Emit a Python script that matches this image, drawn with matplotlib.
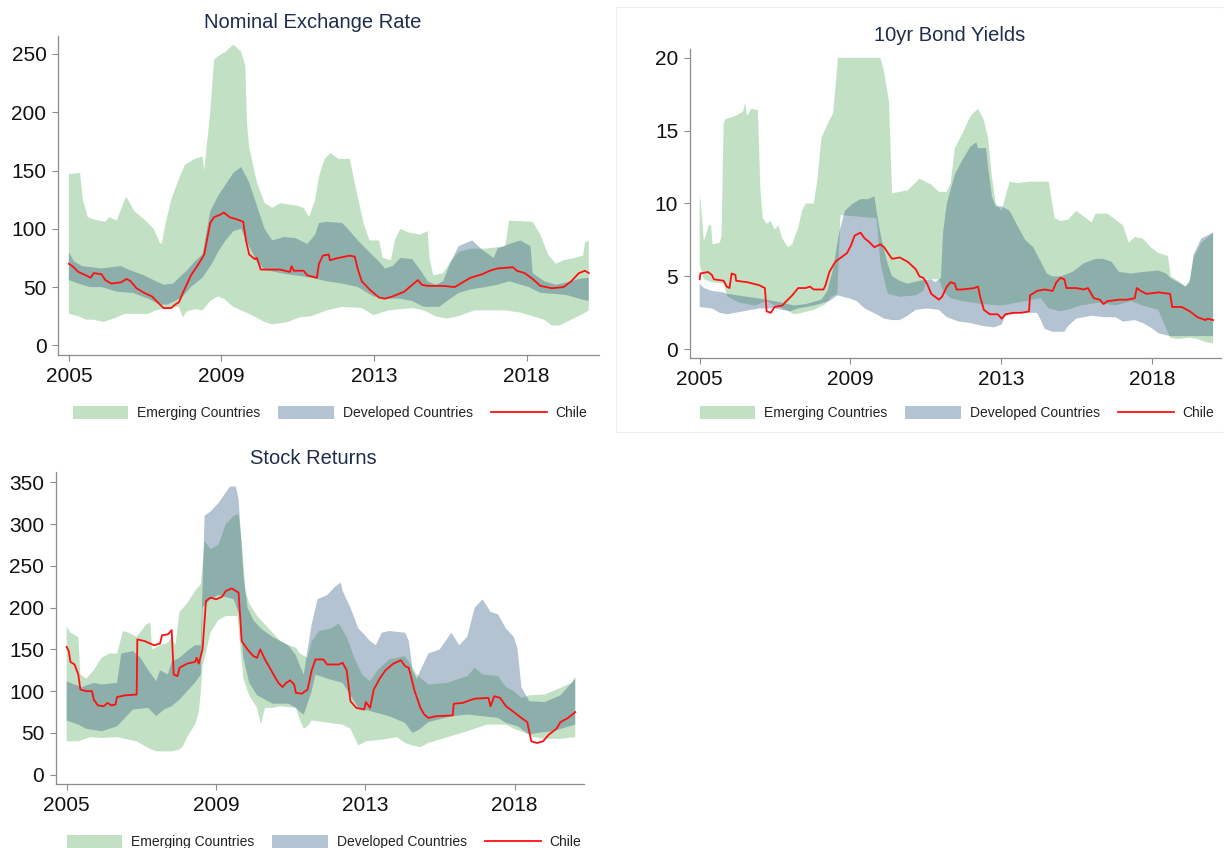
import numpy as np
import matplotlib
matplotlib.use("Agg")
import matplotlib.pyplot as plt
from matplotlib.patches import Patch, Rectangle
from matplotlib.lines import Line2D

plt.rcParams['font.family'] = ['Liberation Sans', 'DejaVu Sans']

# ---------------- common axis labels ----------------
xtick_pos = [2005.0, 2009.35, 2013.7, 2018.05]
xtick_labels = ['2005', '2009', '2013', '2018']
legend_labels = ['Emerging Countries', 'Developed Countries', 'Chile']
titles = ['Nominal Exchange Rate', '10yr Bond Yields', 'Stock Returns']

# ---------------- Panel 1: Nominal Exchange Rate ----------------
ner_em_up_x = [2005.00, 2005.32, 2005.40, 2005.54, 2005.71, 2006.04, 2006.15, 2006.37, 2006.59, 2006.65,
               2006.87, 2007.15, 2007.42, 2007.59, 2007.65, 2007.76, 2007.92, 2008.14, 2008.31, 2008.59,
               2008.81, 2008.86, 2009.03, 2009.14, 2009.25, 2009.47, 2009.69, 2009.91, 2010.03, 2010.08,
               2010.14, 2010.36, 2010.58, 2010.80, 2011.02, 2011.46, 2011.69, 2011.85, 2012.02, 2012.13,
               2012.29, 2012.46, 2012.68, 2013.01, 2013.18, 2013.40, 2013.57, 2013.84, 2013.95, 2014.18,
               2014.29, 2014.45, 2014.67, 2015.01, 2015.23, 2015.28, 2015.39, 2015.67, 2015.89, 2016.11,
               2016.45, 2016.89, 2017.44, 2017.55, 2018.22, 2018.44, 2018.66, 2018.88, 2019.10, 2019.43,
               2019.66, 2019.71, 2019.82]
ner_em_up_y = [147, 148, 125, 110, 108, 106, 110, 107, 125, 127,
               115, 108, 100, 88, 87, 105, 125, 143, 155, 160,
               162, 150, 200, 245, 248, 252, 258, 252, 240, 190,
               170, 140, 122, 118, 122, 120, 118, 110, 125, 145,
               160, 165, 160, 160, 135, 105, 90, 90, 75, 73,
               90, 100, 97, 95, 98, 75, 60, 62, 72, 80,
               83, 83, 85, 107, 106, 95, 78, 70, 73, 75,
               77, 88, 90]
ner_em_lo_x = [2005.00, 2005.27, 2005.49, 2005.71, 2005.99, 2006.37, 2006.59, 2007.26, 2007.48, 2007.81,
               2008.14, 2008.25, 2008.36, 2008.59, 2008.81, 2009.03, 2009.25, 2009.42, 2009.69, 2010.14,
               2010.58, 2010.80, 2011.24, 2011.58, 2011.91, 2012.35, 2012.79, 2013.35, 2013.68, 2014.12,
               2014.79, 2015.12, 2015.45, 2015.78, 2016.11, 2016.56, 2017.44, 2017.88, 2018.55, 2018.77,
               2018.99, 2019.32, 2019.66, 2019.82]
ner_em_lo_y = [27, 25, 22, 22, 20, 24, 27, 27, 30, 32,
               33, 24, 29, 31, 30, 38, 42, 40, 33, 27,
               20, 18, 20, 24, 25, 30, 33, 32, 26, 30,
               32, 30, 25, 23, 25, 30, 30, 28, 22, 17,
               17, 22, 27, 30]
ner_dev_up_x = [2005.00, 2005.15, 2005.38, 2005.93, 2006.48, 2006.70, 2007.15, 2007.48, 2007.70, 2007.98,
                2008.14, 2008.36, 2008.59, 2008.81, 2009.03, 2009.25, 2009.47, 2009.69, 2009.91, 2010.14,
                2010.36, 2010.58, 2010.80, 2011.13, 2011.46, 2011.80, 2012.02, 2012.13, 2012.35, 2012.79,
                2013.01, 2013.24, 2013.57, 2013.84, 2014.01, 2014.23, 2014.45, 2014.79, 2015.01, 2015.23,
                2015.45, 2015.67, 2015.89, 2016.11, 2016.33, 2016.50, 2016.78, 2017.11, 2017.22, 2017.55,
                2017.88, 2018.16, 2018.22, 2018.55, 2018.88, 2019.21, 2019.54, 2019.82]
ner_dev_up_y = [80, 72, 68, 66, 68, 65, 60, 55, 52, 53,
                58, 64, 72, 78, 115, 128, 138, 148, 153, 140,
                120, 100, 90, 93, 92, 87, 95, 105, 106, 105,
                98, 90, 80, 72, 66, 68, 75, 74, 65, 55,
                52, 55, 72, 85, 88, 90, 82, 75, 83, 87,
                90, 85, 62, 55, 52, 54, 57, 58]
ner_dev_lo_x = [2005.00, 2005.27, 2005.60, 2005.93, 2006.37, 2006.82, 2007.26, 2007.59, 2007.81, 2008.03,
                2008.25, 2008.48, 2008.81, 2009.08, 2009.25, 2009.47, 2009.69, 2009.91, 2010.14, 2010.36,
                2010.58, 2011.02, 2011.46, 2011.91, 2012.35, 2012.79, 2013.24, 2013.68, 2014.01, 2014.45,
                2014.79, 2015.12, 2015.56, 2015.78, 2016.11, 2016.45, 2016.89, 2017.22, 2017.55, 2018.11,
                2018.44, 2018.88, 2019.21, 2019.54, 2019.82]
ner_dev_lo_y = [56, 53, 50, 50, 46, 45, 40, 35, 35, 38,
                42, 50, 58, 70, 80, 90, 98, 100, 85, 72,
                65, 62, 60, 58, 55, 53, 50, 42, 40, 40,
                38, 33, 33, 38, 45, 48, 50, 52, 55, 50,
                45, 44, 43, 40, 38]
ner_chile_x = [2005.00, 2005.10, 2005.27, 2005.49, 2005.62, 2005.71, 2005.93, 2006.04, 2006.21, 2006.48,
               2006.65, 2006.76, 2006.93, 2007.15, 2007.37, 2007.53, 2007.70, 2007.92, 2008.03, 2008.14,
               2008.25, 2008.48, 2008.70, 2008.86, 2009.03, 2009.14, 2009.31, 2009.42, 2009.58, 2009.80,
               2009.97, 2010.05, 2010.14, 2010.30, 2010.36, 2010.47, 2010.69, 2011.02, 2011.30, 2011.35,
               2011.41, 2011.69, 2011.80, 2012.07, 2012.13, 2012.24, 2012.41, 2012.44, 2012.68, 2013.01,
               2013.15, 2013.24, 2013.35, 2013.57, 2013.84, 2014.01, 2014.23, 2014.56, 2014.79, 2014.95,
               2015.06, 2015.23, 2015.67, 2016.00, 2016.22, 2016.45, 2016.78, 2017.00, 2017.22, 2017.66,
               2017.77, 2017.99, 2018.22, 2018.44, 2018.77, 2019.10, 2019.32, 2019.54, 2019.71, 2019.82]
ner_chile_y = [70, 68, 63, 60, 58, 62, 61, 56, 53, 54,
               57, 55, 49, 45, 42, 37, 32, 32, 35, 37,
               45, 60, 70, 78, 105, 110, 112, 114, 110, 108,
               106, 90, 78, 74, 75, 65, 65, 65, 63, 68,
               64, 64, 60, 58, 70, 77, 78, 73, 75, 77,
               76, 65, 55, 48, 41, 40, 42, 46, 52, 56,
               52, 51, 51, 50, 54, 58, 61, 64, 66, 67,
               64, 62, 57, 51, 49, 50, 55, 62, 64, 62]

# ---------------- Panel 2: 10yr Bond Yields ----------------
bond_em_up_x = [2005.00, 2005.05, 2005.12, 2005.26, 2005.33, 2005.37, 2005.58, 2005.63, 2005.69, 2005.75,
                2006.03, 2006.25, 2006.31, 2006.37, 2006.48, 2006.68, 2006.75, 2006.82, 2006.93, 2007.05,
                2007.16, 2007.27, 2007.38, 2007.55, 2007.67, 2007.72, 2007.84, 2007.95, 2008.06, 2008.29,
                2008.40, 2008.51, 2008.74, 2008.85, 2008.99, 2010.21, 2010.27, 2010.32, 2010.46, 2010.55,
                2011.00, 2011.34, 2011.68, 2011.90, 2012.13, 2012.24, 2012.36, 2012.58, 2012.81, 2013.03,
                2013.20, 2013.32, 2013.43, 2013.54, 2013.71, 2013.94, 2014.16, 2014.50, 2015.07, 2015.24,
                2015.41, 2015.63, 2015.86, 2016.14, 2016.31, 2016.42, 2016.76, 2016.99, 2017.21, 2017.38,
                2017.55, 2017.78, 2018.01, 2018.23, 2018.51, 2018.59, 2018.80, 2019.02, 2019.14, 2019.25,
                2019.47, 2019.81]
bond_em_up_y = [10.6, 9.5, 7.4, 8.5, 8.5, 7.2, 7.3, 7.8, 15.5, 15.8,
                16.0, 16.3, 16.9, 16.0, 16.5, 16.4, 11.0, 9.0, 8.6, 8.8,
                8.2, 8.5, 7.6, 7.0, 7.2, 7.6, 8.3, 9.5, 10.0, 10.0,
                11.7, 14.5, 15.7, 16.2, 20.0, 20.0, 19.5, 19.0, 17.0, 10.7,
                10.9, 11.7, 11.3, 10.8, 10.8, 11.4, 13.8, 14.8, 16.0, 16.5,
                15.7, 14.5, 11.8, 10.0, 9.5, 11.5, 11.4, 11.5, 11.5, 9.0,
                8.8, 8.9, 9.5, 9.0, 8.7, 9.3, 9.3, 8.9, 8.5, 7.3,
                7.7, 7.6, 7.0, 6.6, 6.4, 5.0, 4.7, 4.3, 4.8, 6.3,
                7.3, 8.0]
bond_em_lo_x = [2005.00, 2005.12, 2005.35, 2005.69, 2005.80, 2006.14, 2006.59, 2006.93, 2007.16, 2007.50,
                2007.72, 2007.95, 2008.29, 2008.63, 2008.80, 2008.97, 2009.06, 2010.10, 2010.21, 2010.32,
                2010.43, 2010.77, 2011.23, 2011.45, 2011.56, 2011.90, 2012.02, 2012.24, 2012.58, 2013.15,
                2013.71, 2013.94, 2014.39, 2014.84, 2015.07, 2015.41, 2015.75, 2015.97, 2016.54, 2016.99,
                2017.44, 2017.78, 2018.23, 2018.57, 2018.80, 2019.14, 2019.36, 2019.59, 2019.81]
bond_em_lo_y = [5.8, 4.8, 4.6, 4.5, 3.6, 3.2, 3.0, 3.3, 3.0, 2.7,
                2.4, 2.5, 2.7, 3.1, 3.6, 3.8, 9.2, 9.0, 6.0, 4.8,
                3.8, 3.6, 3.7, 4.0, 4.8, 4.8, 4.0, 3.5, 3.3, 3.1,
                3.0, 3.1, 3.3, 3.5, 2.8, 2.6, 2.8, 3.0, 3.2, 3.0,
                3.3, 3.0, 2.7, 0.8, 0.7, 0.8, 0.7, 0.5, 0.4]
bond_dev_up_x = [2005.00, 2005.12, 2005.35, 2005.69, 2005.80, 2006.37, 2006.93, 2007.38, 2007.72, 2008.06,
                 2008.51, 2008.68, 2008.85, 2009.02, 2009.19, 2009.42, 2009.64, 2009.87, 2010.04, 2010.10,
                 2010.21, 2010.32, 2010.43, 2010.55, 2010.77, 2011.00, 2011.34, 2011.68, 2011.79, 2011.96,
                 2012.02, 2012.13, 2012.36, 2012.58, 2012.81, 2012.98, 2013.03, 2013.26, 2013.32, 2013.43,
                 2013.54, 2013.71, 2013.94, 2014.16, 2014.39, 2014.62, 2014.84, 2015.01, 2015.18, 2015.41,
                 2015.75, 2016.08, 2016.42, 2016.65, 2016.88, 2017.10, 2017.44, 2017.78, 2018.23, 2018.46,
                 2018.57, 2018.80, 2019.02, 2019.14, 2019.25, 2019.47, 2019.81]
bond_dev_up_y = [4.5, 4.2, 4.0, 3.9, 3.8, 3.6, 3.4, 3.2, 3.0, 3.1,
                 3.4, 4.0, 5.5, 8.0, 9.5, 10.0, 10.3, 10.3, 10.5, 9.5,
                 8.0, 6.8, 5.8, 5.0, 4.7, 4.5, 4.7, 4.8, 4.6, 4.9,
                 8.0, 10.0, 12.0, 13.0, 13.9, 14.2, 13.8, 13.8, 12.5, 10.5,
                 9.8, 9.8, 9.5, 8.5, 7.5, 7.0, 6.0, 5.2, 5.0, 5.0,
                 5.3, 5.9, 6.2, 6.2, 6.0, 5.3, 5.2, 5.3, 5.4, 5.2,
                 4.9, 4.6, 4.3, 4.6, 6.5, 7.6, 8.0]
bond_dev_lo_x = [2005.00, 2005.35, 2005.58, 2005.80, 2006.25, 2006.71, 2007.16, 2007.61, 2007.84, 2008.29,
                 2008.74, 2008.97, 2009.30, 2009.53, 2009.76, 2010.10, 2010.32, 2010.55, 2010.77, 2011.00,
                 2011.23, 2011.56, 2011.90, 2012.13, 2012.47, 2012.81, 2013.15, 2013.49, 2013.71, 2013.82,
                 2014.16, 2014.73, 2014.84, 2014.95, 2015.18, 2015.52, 2015.63, 2015.86, 2016.31, 2016.65,
                 2016.99, 2017.21, 2017.55, 2017.78, 2018.01, 2018.23, 2018.57, 2019.02, 2019.81]
bond_dev_lo_y = [2.9, 2.8, 2.5, 2.4, 2.6, 2.8, 2.8, 2.6, 2.8, 3.0,
                 3.3, 3.7, 3.5, 3.3, 2.8, 2.4, 2.1, 2.0, 2.0, 2.3,
                 2.7, 2.8, 2.7, 2.2, 1.9, 1.8, 1.6, 1.5, 1.7, 2.3,
                 2.5, 2.5, 2.0, 1.4, 1.2, 1.2, 1.6, 2.1, 2.3, 2.2,
                 2.2, 1.9, 2.0, 1.8, 1.5, 1.1, 0.9, 0.9, 0.9]
bond_chile_x = [2005.00, 2005.02, 2005.24, 2005.35, 2005.41, 2005.69, 2005.78, 2005.86, 2005.92, 2006.03,
                2006.05, 2006.37, 2006.71, 2006.88, 2006.93, 2007.05, 2007.16, 2007.38, 2007.50, 2007.67,
                2007.84, 2008.06, 2008.18, 2008.29, 2008.57, 2008.63, 2008.74, 2008.91, 2009.08, 2009.25,
                2009.36, 2009.47, 2009.64, 2009.76, 2009.87, 2010.04, 2010.21, 2010.32, 2010.46, 2010.55,
                2010.77, 2011.00, 2011.23, 2011.34, 2011.45, 2011.56, 2011.68, 2011.90, 2011.99, 2012.13,
                2012.24, 2012.36, 2012.41, 2012.58, 2012.92, 2013.03, 2013.09, 2013.20, 2013.37, 2013.60,
                2013.71, 2013.82, 2014.05, 2014.28, 2014.50, 2014.53, 2014.73, 2014.95, 2015.18, 2015.29,
                2015.41, 2015.52, 2015.58, 2015.86, 2016.08, 2016.20, 2016.37, 2016.54, 2016.65, 2016.76,
                2017.10, 2017.33, 2017.55, 2017.61, 2017.72, 2017.89, 2018.23, 2018.57, 2018.63, 2018.91,
                2019.14, 2019.36, 2019.59, 2019.65, 2019.81]
bond_chile_y = [4.8, 5.2, 5.3, 5.1, 4.8, 4.7, 4.3, 4.2, 5.2, 5.1,
                4.7, 4.6, 4.4, 4.2, 2.6, 2.5, 2.9, 3.0, 3.3, 3.7,
                4.2, 4.2, 4.3, 4.1, 4.1, 4.4, 5.3, 6.0, 6.3, 6.6,
                7.1, 7.8, 8.0, 7.6, 7.4, 7.0, 7.2, 7.0, 6.5, 6.2,
                6.3, 6.0, 5.5, 5.0, 4.9, 4.5, 3.8, 3.4, 3.6, 4.3,
                4.6, 4.5, 4.1, 4.1, 4.2, 4.3, 3.6, 2.7, 2.4, 2.4,
                2.1, 2.4, 2.5, 2.5, 2.6, 3.7, 4.0, 4.1, 4.0, 4.6,
                4.9, 4.8, 4.2, 4.2, 4.1, 4.2, 3.5, 3.4, 3.1, 3.3,
                3.4, 3.4, 3.5, 4.2, 4.0, 3.8, 3.9, 3.8, 2.9, 2.9,
                2.6, 2.2, 2.0, 2.1, 2.0]

# ---------------- Panel 3: Stock Returns ----------------
stk_em_up_x = [2005.00, 2005.11, 2005.34, 2005.40, 2005.57, 2005.79, 2006.02, 2006.25, 2006.47, 2006.64,
               2006.81, 2007.04, 2007.32, 2007.44, 2007.49, 2007.72, 2007.95, 2008.06, 2008.17, 2008.29,
               2008.51, 2008.74, 2008.91, 2009.02, 2009.19, 2009.42, 2009.64, 2009.87, 2010.01, 2010.10,
               2010.21, 2010.32, 2010.55, 2010.78, 2011.00, 2011.23, 2011.46, 2011.68, 2011.80, 2012.02,
               2012.14, 2012.36, 2012.70, 2012.93, 2013.16, 2013.38, 2013.61, 2013.84, 2014.06, 2014.40,
               2014.86, 2014.97, 2015.20, 2015.54, 2016.10, 2016.67, 2016.89, 2017.12, 2017.57, 2017.80,
               2018.03, 2018.25, 2018.48, 2018.93, 2019.39, 2019.73, 2019.82]
stk_em_up_y = [178, 170, 165, 120, 115, 125, 140, 145, 145, 172,
               170, 165, 180, 182, 150, 155, 158, 165, 155, 195,
               205, 220, 228, 280, 270, 275, 300, 310, 312, 280,
               220, 205, 190, 180, 170, 160, 155, 152, 145, 140,
               160, 172, 175, 181, 165, 140, 120, 112, 125, 138,
               142, 135, 120, 108, 110, 118, 128, 120, 118, 105,
               100, 92, 95, 96, 104, 110, 118]
stk_em_lo_x = [2005.00, 2005.34, 2005.68, 2006.02, 2006.47, 2007.04, 2007.38, 2007.61, 2008.06, 2008.29,
               2008.40, 2008.51, 2008.74, 2008.85, 2008.91, 2008.96, 2009.08, 2009.19, 2009.42, 2009.64,
               2009.98, 2010.07, 2010.15, 2010.32, 2010.55, 2010.66, 2010.78, 2011.00, 2011.23, 2011.68,
               2011.80, 2011.91, 2012.02, 2012.14, 2012.48, 2013.04, 2013.27, 2013.50, 2013.72, 2014.18,
               2014.63, 2014.86, 2015.08, 2015.31, 2015.54, 2016.10, 2016.67, 2017.24, 2017.80, 2018.03,
               2018.37, 2018.60, 2018.93, 2019.39, 2019.82]
stk_em_lo_y = [40, 40, 45, 44, 45, 40, 32, 28, 28, 30,
               35, 45, 60, 75, 100, 130, 150, 170, 185, 190,
               190, 150, 115, 95, 80, 60, 80, 80, 82, 80,
               65, 55, 58, 65, 63, 60, 55, 35, 40, 42,
               45, 38, 35, 33, 38, 45, 52, 60, 60, 55,
               50, 45, 43, 43, 45]
stk_dev_up_x = [2005.00, 2005.23, 2005.45, 2005.79, 2006.02, 2006.47, 2006.59, 2006.93, 2007.15, 2007.38,
                2007.61, 2007.72, 2007.95, 2008.06, 2008.29, 2008.51, 2008.74, 2008.91, 2009.02, 2009.19,
                2009.42, 2009.59, 2009.76, 2009.93, 2010.01, 2010.15, 2010.27, 2010.44, 2010.66, 2011.00,
                2011.46, 2011.68, 2011.80, 2011.91, 2012.02, 2012.14, 2012.31, 2012.59, 2012.82, 2012.99,
                2013.04, 2013.27, 2013.50, 2013.67, 2013.84, 2014.01, 2014.18, 2014.40, 2014.86, 2014.97,
                2015.08, 2015.20, 2015.31, 2015.54, 2015.87, 2016.21, 2016.44, 2016.67, 2016.89, 2017.12,
                2017.35, 2017.57, 2017.80, 2018.03, 2018.14, 2018.25, 2018.48, 2018.93, 2019.39, 2019.82]
stk_dev_up_y = [112, 108, 105, 110, 108, 110, 145, 148, 140, 125,
                112, 125, 120, 135, 140, 148, 155, 155, 310, 315,
                325, 335, 345, 345, 330, 240, 200, 185, 175, 165,
                155, 143, 130, 120, 150, 180, 210, 215, 225, 230,
                220, 200, 175, 168, 160, 155, 170, 172, 170, 160,
                125, 115, 125, 145, 150, 170, 155, 165, 200, 210,
                195, 192, 175, 165, 150, 105, 88, 87, 95, 115]
stk_dev_lo_x = [2005.00, 2005.34, 2005.57, 2006.02, 2006.47, 2006.93, 2007.38, 2007.61, 2007.83, 2008.06,
                2008.29, 2008.51, 2008.74, 2008.91, 2008.96, 2009.19, 2009.42, 2009.87, 2010.04, 2010.15,
                2010.32, 2010.55, 2011.00, 2011.46, 2011.68, 2011.80, 2011.91, 2012.14, 2012.25, 2012.59,
                2013.04, 2013.27, 2013.50, 2013.95, 2014.40, 2014.86, 2015.08, 2015.31, 2015.54, 2016.21,
                2016.67, 2017.12, 2017.57, 2017.80, 2018.14, 2018.48, 2018.71, 2019.16, 2019.82]
stk_dev_lo_y = [65, 60, 55, 52, 58, 78, 80, 70, 78, 82,
                90, 100, 110, 120, 200, 210, 215, 210, 190, 140,
                110, 95, 85, 85, 80, 75, 72, 100, 120, 115,
                110, 95, 80, 75, 70, 62, 50, 55, 63, 70,
                72, 70, 68, 62, 58, 48, 50, 52, 60]
stk_chile_x = [2005.00, 2005.06, 2005.11, 2005.23, 2005.34, 2005.40, 2005.57, 2005.74, 2005.79, 2005.91,
               2006.08, 2006.19, 2006.30, 2006.42, 2006.47, 2006.70, 2007.04, 2007.06, 2007.27, 2007.55,
               2007.72, 2007.78, 2007.95, 2008.06, 2008.12, 2008.23, 2008.29, 2008.51, 2008.74, 2008.79,
               2008.85, 2008.96, 2009.06, 2009.19, 2009.36, 2009.53, 2009.64, 2009.81, 2009.93, 2010.01,
               2010.10, 2010.27, 2010.44, 2010.55, 2010.64, 2010.78, 2011.00, 2011.17, 2011.29, 2011.40,
               2011.51, 2011.63, 2011.68, 2011.85, 2012.02, 2012.14, 2012.25, 2012.48, 2012.59, 2012.93,
               2013.04, 2013.16, 2013.27, 2013.44, 2013.67, 2013.72, 2013.84, 2013.95, 2014.12, 2014.29,
               2014.52, 2014.74, 2014.86, 2014.97, 2015.14, 2015.31, 2015.42, 2015.54, 2015.76, 2016.25,
               2016.28, 2016.55, 2016.67, 2016.89, 2017.29, 2017.35, 2017.46, 2017.63, 2017.80, 2018.03,
               2018.25, 2018.42, 2018.54, 2018.71, 2018.88, 2019.05, 2019.27, 2019.39, 2019.61, 2019.82]
stk_chile_y = [153, 148, 135, 132, 120, 102, 100, 100, 90, 83,
               82, 86, 83, 84, 93, 95, 96, 162, 160, 155,
               157, 167, 168, 173, 120, 118, 128, 133, 135, 140,
               133, 150, 208, 212, 210, 213, 220, 223, 220, 218,
               160, 150, 142, 140, 150, 138, 122, 110, 105, 110,
               113, 108, 98, 97, 102, 125, 138, 138, 132, 132,
               134, 125, 88, 80, 78, 87, 80, 102, 115, 125,
               133, 137, 130, 128, 100, 80, 72, 68, 70, 71,
               85, 86, 88, 91, 92, 82, 94, 92, 82, 75,
               68, 63, 40, 38, 40, 48, 55, 63, 68, 75]

# ---------------- styling ----------------
EM_COLOR = '#c2e1c4'
DEV_COLOR = '#25517b'
DEV_ALPHA = 0.34
DEV_LEGEND = '#b5c4d2'
CHILE_COLOR = '#ff1010'
AXIS_GRAY = '#8c8c8c'
TITLE_COLOR = '#1e2d4d'

W, H = 1224, 848
fig = plt.figure(figsize=(W / 100, H / 100), dpi=100)
fig.patch.set_facecolor('white')


def fig_rect(left, right, top, bottom):
    return [left / W, 1 - bottom / H, (right - left) / W, (bottom - top) / H]


def band(ax, xu, yu, xl, yl, **kw):
    xs = np.concatenate([np.asarray(xu), np.asarray(xl)[::-1]])
    ys = np.concatenate([np.asarray(yu), np.asarray(yl)[::-1]])
    ax.fill(xs, ys, linewidth=0, **kw)


def style(ax, xlim, ylim, yticks):
    ax.set_xlim(*xlim)
    ax.set_ylim(*ylim)
    ax.set_xticks(xtick_pos)
    ax.set_xticklabels(xtick_labels)
    ax.set_yticks(yticks)
    for s in ['top', 'right']:
        ax.spines[s].set_visible(False)
    for s in ['left', 'bottom']:
        ax.spines[s].set_color(AXIS_GRAY)
        ax.spines[s].set_linewidth(0.9)
    ax.tick_params(axis='both', direction='out', length=4.5, width=0.8,
                   color=AXIS_GRAY, labelsize=15, labelcolor='#111111')
    ax.tick_params(axis='x', pad=4)
    ax.tick_params(axis='y', pad=4)
    ax.set_facecolor('white')


def legend(cx, cy):
    handles = [Patch(facecolor=EM_COLOR, edgecolor='none'),
               Patch(facecolor=DEV_LEGEND, edgecolor='none'),
               Line2D([0], [0], color=CHILE_COLOR, lw=1.3)]
    fig.legend(handles, legend_labels, loc='center', bbox_to_anchor=(cx / W, 1 - cy / H),
               ncol=3, frameon=False, fontsize=10, handlelength=4.0, handleheight=1.1,
               handletextpad=0.65, columnspacing=1.3, labelcolor='#222222',
               borderaxespad=0, borderpad=0)


panels = [
    dict(rect=fig_rect(58.3, 599.3, 35.7, 355.0), xlim=(2004.70, 2020.12), ylim=(-8.3, 265.7),
         yticks=[0, 50, 100, 150, 200, 250],
         em=(ner_em_up_x, ner_em_up_y, ner_em_lo_x, ner_em_lo_y),
         dev=(ner_dev_up_x, ner_dev_up_y, ner_dev_lo_x, ner_dev_lo_y),
         chile=(ner_chile_x, ner_chile_y),
         title=(titles[0], 313, 22), leg=(330, 413)),
    dict(rect=fig_rect(690.0, 1220.7, 49.0, 357.7), xlim=(2004.72, 2020.03), ylim=(-0.58, 20.6),
         yticks=[0, 5, 10, 15, 20],
         em=(bond_em_up_x, bond_em_up_y, bond_em_lo_x, bond_em_lo_y),
         dev=(bond_dev_up_x, bond_dev_up_y, bond_dev_lo_x, bond_dev_lo_y),
         chile=(bond_chile_x, bond_chile_y),
         title=(titles[1], 950, 35.5), leg=(957, 413)),
    dict(rect=fig_rect(56.0, 583.5, 472.3, 784.0), xlim=(2004.69, 2020.06), ylim=(-11.1, 362.0),
         yticks=[0, 50, 100, 150, 200, 250, 300, 350],
         em=(stk_em_up_x, stk_em_up_y, stk_em_lo_x, stk_em_lo_y),
         dev=(stk_dev_up_x, stk_dev_up_y, stk_dev_lo_x, stk_dev_lo_y),
         chile=(stk_chile_x, stk_chile_y),
         title=(titles[2], 313, 458), leg=(324, 842)),
]

# faint frame of the upper-right sub-graph
fig.add_artist(Rectangle((616 / W, 1 - 432 / H), (W - 616) / W, (432 - 7) / H,
                         transform=fig.transFigure, fill=False, edgecolor='#ededed', lw=0.8))

for p in panels:
    ax = fig.add_axes(p['rect'])
    band(ax, *p['em'], color=EM_COLOR, zorder=1)
    band(ax, *p['dev'], color=DEV_COLOR, alpha=DEV_ALPHA, zorder=2)
    ax.plot(*p['chile'], color=CHILE_COLOR, lw=1.3, zorder=3)
    style(ax, p['xlim'], p['ylim'], p['yticks'])
    t, tx, ty = p['title']
    fig.text(tx / W, 1 - ty / H, t, ha='center', va='center', fontsize=14.5, color=TITLE_COLOR)
    legend(*p['leg'])

fig.savefig('out.png', dpi=100, facecolor='white')
